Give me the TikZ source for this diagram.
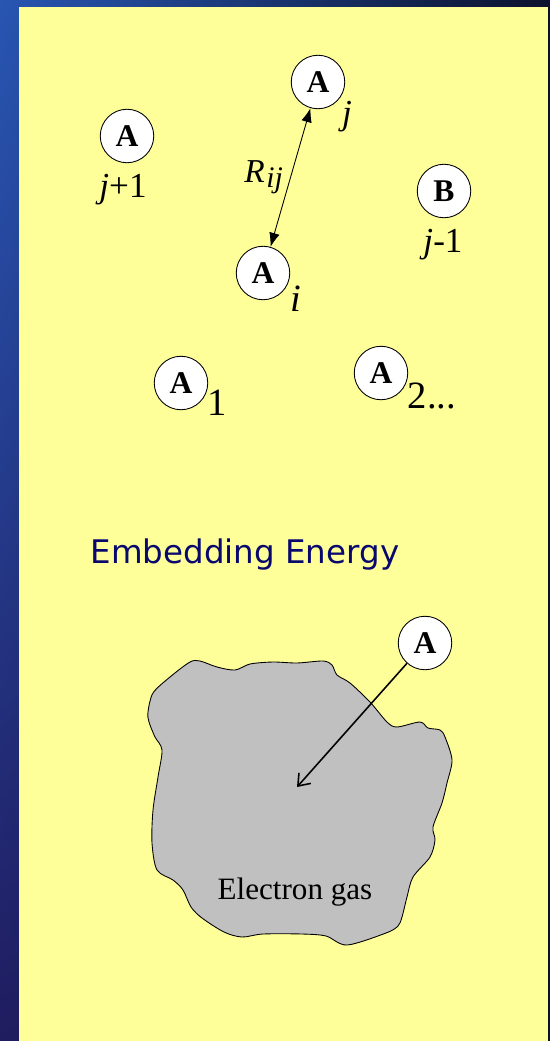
\documentclass[tikz,border=0pt]{standalone}
\usepackage{fontspec}
\setmainfont{Liberation Serif}
\newfontfamily\titrefont{DejaVu Sans}
\usetikzlibrary{arrows.meta, shadings}

\definecolor{jaune}{RGB}{255,255,153}
\definecolor{bleuclair}{RGB}{40,86,178}
\definecolor{bleunuit}{RGB}{12,18,45}
\definecolor{bleubas}{RGB}{32,28,96}
\definecolor{titre}{RGB}{8,8,110}
\definecolor{gaz}{RGB}{192,192,192}

\begin{document}
\begin{tikzpicture}[x=0.02cm, y=-0.02cm]
			\tikzset{atome/.style={circle, draw=black, fill=white, line width=0.5pt, text centered, minimum size=1.07cm, inner sep=0pt, font=\fontsize{18}{20}\selectfont\bfseries},
			indice/.style={font=\fontsize{20}{22}\selectfont\itshape, inner sep=0pt},
			gros/.style={font=\fontsize{22}{24}\selectfont, inner sep=0pt},
			fleche/.style={line width=0.5pt}};

			\useasboundingbox (0, 0) rectangle (550, 1041);
			\shade[upper left=bleuclair, upper right=bleunuit, lower left=bleubas, lower right=bleunuit] (0, 0) rectangle (550, 1041);
			\fill[jaune] (19, 7) rectangle (548, 1041);

			% atomes du haut
			\node[atome] (j) at (318, 82) {A};
			\node[atome] (jp) at (127, 136) {A};
			\node[atome] (jm) at (444, 191) {B};
			\node[atome] (i) at (263, 273) {A};
			\node[atome] (a1) at (181, 383) {A};
			\node[atome] (a2) at (381, 373) {A};

			\node[indice] (lj) at (347, 117) {j};
			\node[indice] (ljp) at (123, 190) {j\upshape+1};
			\node[indice] (ljm) at (443, 245) {j\upshape-1};
			\node[gros, font=\fontsize{22}{24}\selectfont\itshape] (li) at (296, 299) {i};
			\node[gros] (l1) at (217, 403) {1};
			\node[gros] (l2) at (432, 396) {2...};

			\draw[fleche, {Latex[length=8pt, width=6pt]}-{Latex[length=8pt, width=6pt]}] (i) to node[left, font=\fontsize{19}{21}\selectfont\itshape, inner sep=4pt] {R\kern1pt\raisebox{-0.3ex}{\fontsize{17}{19}\selectfont ij}} (j);

			% energie d'immersion
			\node[text=titre, font=\titrefont\fontsize{18.5}{22}\selectfont] (titre) at (245, 555) {Embedding Energy};

			\draw[fill=gaz, line width=0.5pt] plot[smooth cycle, tension=0.5] coordinates {
				(148, 712) (153, 693) (170, 677) (190, 662) (200, 661) (217, 667) (235, 670)
				(250, 664) (273, 662) (297, 663) (323, 661) (332, 665) (337, 675) (350, 683)
				(370, 702) (387, 722) (397, 727) (420, 722) (428, 728) (440, 730) (445, 737)
				(452, 760) (447, 783) (442, 803) (433, 827) (435, 840) (430, 857) (413, 877)
				(407, 897) (402, 917) (398, 926) (386, 933) (347, 945) (326, 936) (302, 934)
				(263, 934) (242, 937) (224, 932) (202, 918) (191, 907) (183, 890) (173, 880)
				(157, 870) (152, 843) (153, 810) (158, 777) (162, 750) (155, 737) (149, 722)};
			\node[font=\fontsize{17.7}{20}\selectfont] (gaz) at (295, 892) {Electron gas};

			\node[atome] (ab) at (425, 643) {A};
			\coordinate (centre) at (297, 787);
			\draw[line width=0.9pt, -{Straight Barb[length=6pt, width=9pt]}] (ab) to (centre);
		\end{tikzpicture}
\end{document}
